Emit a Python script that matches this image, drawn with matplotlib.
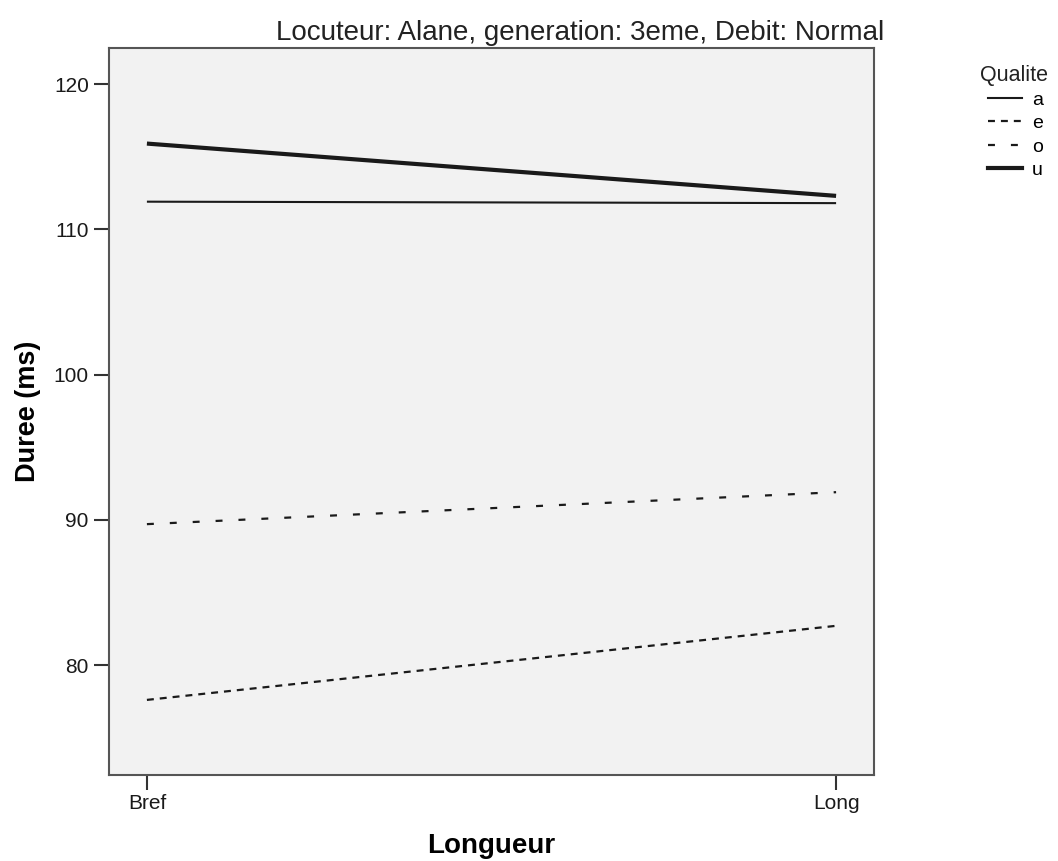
import matplotlib
matplotlib.use("Agg")
import matplotlib.pyplot as plt
from matplotlib.lines import Line2D

plt.rcParams['font.family'] = ['Liberation Sans', 'DejaVu Sans']
plt.rcParams['lines.scale_dashes'] = False

categories = ["Bref", "Long"]
qualites = ["a", "e", "o", "u"]
vals_a = [111.9, 111.8]
vals_e = [77.6, 82.7]
vals_o = [89.7, 91.9]
vals_u = [115.9, 112.3]
yticks = [80, 90, 100, 110, 120]

series = {"a": vals_a, "e": vals_e, "o": vals_o, "u": vals_u}
styles = {
    "a": dict(lw=1.5, linestyle="-"),
    "e": dict(lw=1.6, linestyle=(0, (5, 4.3))),
    "o": dict(lw=1.6, linestyle=(0, (5, 11.5))),
    "u": dict(lw=3.0, linestyle="-"),
}

W, H = 1058, 861
fig = plt.figure(figsize=(W / 100, H / 100), dpi=100)
ax = fig.add_axes([109/W, 1-775/H, (874-109)/W, (775-48)/H])
ax.set_facecolor("#f2f2f2")

x = list(range(len(categories)))
handles = []
for q in qualites:
    ax.plot(x, series[q], color="#1a1a1a", solid_capstyle="butt",
            dash_capstyle="butt", **styles[q])
    handles.append(Line2D([], [], color="#1a1a1a", **styles[q]))

ax.set_xlim(-0.055, 1.055)
ax.set_ylim(72.43, 122.48)
ax.set_xticks(x)
ax.set_xticklabels(categories)
ax.set_yticks(yticks)
ax.tick_params(axis="both", length=10.5, width=1.5, color="#333333",
               labelsize=15, labelcolor="#1a1a1a")
ax.tick_params(axis="x", pad=3)
ax.tick_params(axis="y", pad=4)
for s in ax.spines.values():
    s.set_color("#555555")
    s.set_linewidth(1.5)

ax.set_xlabel("Longueur", fontsize=20, fontweight="bold", va="baseline")
ax.xaxis.set_label_coords(491/W, 1-853/H, transform=fig.transFigure)
ax.set_ylabel("Duree (ms)", fontsize=19.5, fontweight="bold", va="baseline")
ax.yaxis.set_label_coords(35/W, 1-411.5/H, transform=fig.transFigure)

fig.text(884/W, 1-40/H, "Locuteur: Alane, generation: 3eme, Debit: Normal",
         ha="right", va="baseline", fontsize=20, color="#222222")

fig.text(980/W, 1-75/H, "Qualite", ha="left", va="center",
         fontsize=15.5, color="#222222")
leg = fig.legend(handles, qualites, loc="upper left",
                 bbox_to_anchor=(988/W, 1-91/H), frameon=False,
                 fontsize=14, handlelength=1.75, handletextpad=0.5,
                 labelspacing=0.3, borderaxespad=0, borderpad=0)

fig.savefig("out.png", dpi=100)
